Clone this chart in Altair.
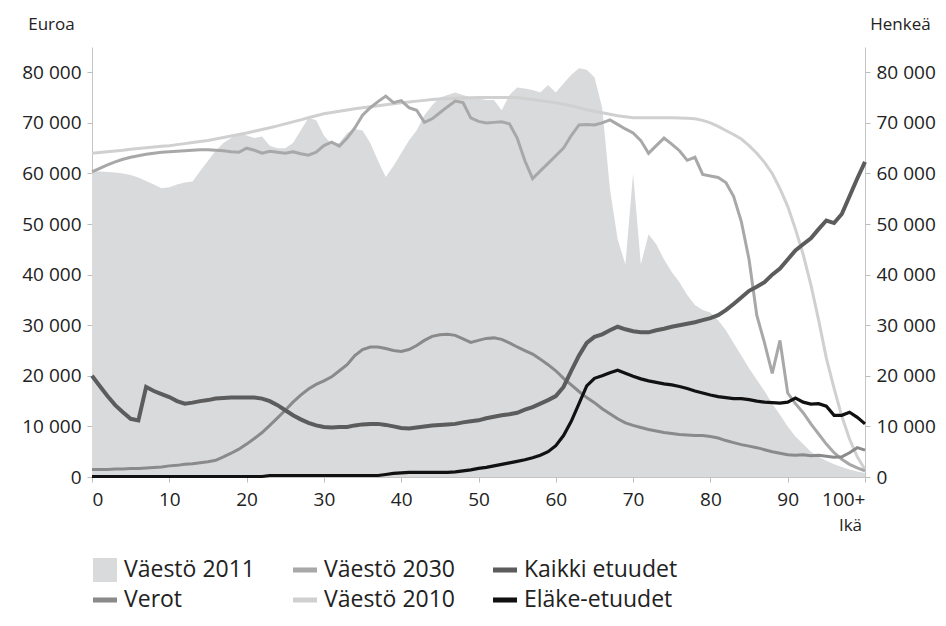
import altair as alt
import pandas as pd

ages = list(range(101))

series_names = ["Väestö 2011", "Väestö 2030", "Kaikki etuudet",
                "Verot", "Väestö 2010", "Eläke-etuudet"]
series_colors = ["#d9dadc", "#a8a8a8", "#5c5c5c", "#8a8a8a", "#d0d0d0", "#111111"]
legend_shapes = ["square", "M-1,-0.21H1V0.21H-1Z", "M-1,-0.21H1V0.21H-1Z",
                 "M-1,-0.21H1V0.21H-1Z", "M-1,-0.21H1V0.21H-1Z", "M-1,-0.21H1V0.21H-1Z"]

vaesto_2011 = [
    60500, 60400, 60300, 60200, 60000, 59700, 59200, 58500, 57800, 57100,
    57300, 57800, 58200, 58400, 60500, 62500, 64500, 66000, 67000, 68000,
    67500, 67000, 67300, 65500, 65000, 65000, 66000, 68500, 71000, 70500,
    67500, 65800, 66000, 68000, 68800, 68500, 66000, 62500, 59300, 61500,
    64000, 66500, 68500, 71500, 73500, 75000, 75500, 76000, 75500, 75000,
    74800, 74500, 74500, 72500, 75500, 77000, 76800, 76500, 76000, 77500,
    76000, 77800, 79500, 80800, 80500, 79000, 73000, 57000, 47000, 42000,
    60000, 42000, 48000, 46000, 43000, 40500, 38500, 36000, 34000, 33000,
    32500, 31000, 29000, 26500, 24000, 21500, 19200, 17000, 14500, 12300,
    10000, 8000, 6500, 5000, 4000, 3200, 2500, 2000, 1500, 1100,
    800]

vaesto_2030 = [
    60300, 61000, 61700, 62300, 62800, 63200, 63500, 63800, 64000, 64200,
    64300, 64400, 64500, 64600, 64700, 64700, 64600, 64500, 64300, 64200,
    65000, 64600, 64000, 64400, 64200, 64000, 64300, 63900, 63600, 64200,
    65500, 66200, 65400, 67000, 69000, 71500, 73000, 74200, 75300, 74000,
    74400, 73000, 72500, 70100, 70800, 72000, 73200, 74300, 74000, 71000,
    70300, 70000, 70100, 70200, 69800, 67000, 62500, 59000, 60500, 62000,
    63500, 65000, 67500, 69600, 69700, 69600, 70000, 70600, 69700, 68800,
    68000, 66500, 64000, 65500, 67000, 65800, 64500, 62600, 63200, 59800,
    59500, 59200, 58200, 55500, 50500, 43000, 32000, 26500, 20500, 27000,
    16600, 14500, 12700, 10500, 8500, 6500, 4800, 3500, 2500, 1800,
    1200]

vaesto_2010 = [
    64000, 64150, 64300, 64450, 64600, 64800, 64950, 65100, 65250, 65400,
    65500, 65700, 65900, 66100, 66300, 66500, 66800, 67100, 67400, 67700,
    68000, 68350, 68700, 69050, 69400, 69800, 70200, 70600, 71000, 71400,
    71800, 72050, 72300, 72550, 72800, 73000, 73200, 73400, 73600, 73800,
    74000, 74150, 74300, 74450, 74600, 74700, 74800, 74850, 74900, 74950,
    75000, 75000, 75000, 75000, 75000, 75000, 74800, 74600, 74400, 74200,
    74000, 73700, 73400, 73000, 72600, 72300, 72000, 71700, 71400, 71200,
    71000, 71000, 71000, 71000, 71000, 71000, 70950, 70900, 70800, 70500,
    70000, 69300, 68500, 67700, 66800, 65500, 64000, 62200, 60000, 57000,
    53500, 49000, 44000, 38000, 31000, 23500, 17500, 12000, 7500, 4000,
    1500]

verot = [
    1500, 1500, 1500, 1600, 1600, 1700, 1700, 1800, 1900, 2000,
    2200, 2300, 2500, 2600, 2800, 3000, 3300, 4000, 4700, 5500,
    6500, 7600, 8800, 10200, 11700, 13200, 14800, 16200, 17400, 18300,
    19000, 19800, 21000, 22200, 24000, 25200, 25700, 25700, 25400, 25000,
    24800, 25200, 26000, 27000, 27800, 28100, 28200, 28000, 27300, 26600,
    27000, 27400, 27500, 27200, 26500, 25700, 25000, 24300, 23300, 22200,
    21000, 19500, 18200, 16900, 15700, 14700, 13500, 12500, 11500, 10700,
    10200, 9800, 9400, 9100, 8800, 8600, 8400, 8300, 8200, 8200,
    8000, 7700, 7200, 6800, 6400, 6100, 5800, 5400, 5000, 4700,
    4400, 4300, 4400, 4200, 4300, 4100, 3900, 4000, 4800, 5800,
    5300]

kaikki_etuudet = [
    20000, 18000, 16000, 14200, 12800, 11500, 11200, 17800, 17000, 16400,
    15800, 15000, 14500, 14700, 15000, 15200, 15500, 15600, 15700, 15700,
    15700, 15700, 15500, 15000, 14200, 13200, 12200, 11400, 10700, 10200,
    9900, 9800, 9900, 9900, 10200, 10400, 10500, 10500, 10300, 10000,
    9700, 9600, 9800, 10000, 10200, 10300, 10400, 10500, 10800, 11000,
    11200, 11600, 11900, 12200, 12400, 12700, 13300, 13800, 14500, 15200,
    16000, 17800, 21000, 24000, 26500, 27700, 28200, 29000, 29700, 29200,
    28800, 28600, 28600, 29000, 29300, 29700, 30000, 30300, 30600, 31000,
    31400, 32000, 33000, 34200, 35500, 36800, 37600, 38500, 40000, 41200,
    43000, 44800, 46000, 47200, 49000, 50700, 50200, 52000, 55500, 59000,
    62300]

elake_etuudet = [
    100, 100, 100, 100, 100, 100, 100, 100, 100, 100,
    100, 100, 100, 100, 100, 100, 100, 100, 100, 100,
    100, 100, 100, 300, 300, 300, 300, 300, 300, 300,
    300, 300, 300, 300, 300, 300, 300, 300, 500, 700,
    800, 900, 900, 900, 900, 900, 900, 1000, 1200, 1400,
    1700, 1900, 2200, 2500, 2800, 3100, 3400, 3800, 4300, 5000,
    6200, 8200, 11000, 14500, 18000, 19500, 20000, 20600, 21100, 20500,
    19900, 19400, 19000, 18700, 18400, 18200, 17900, 17500, 17000, 16600,
    16200, 15900, 15700, 15500, 15500, 15300, 15000, 14800, 14700, 14600,
    14800, 15600, 14800, 14400, 14500, 14000, 12200, 12200, 12800, 11800,
    10500]


def frame(name, values):
    return pd.DataFrame({"age": ages, "value": values, "series": name})


FONT = "Open Sans"
Y_DOMAIN = [0, 85000]
Y_TICKS = list(range(0, 80001, 10000))
label_expr = "replace(format(datum.value, ','), ',', ' ')"

x_enc = alt.X(
    "age:Q",
    scale=alt.Scale(domain=[0, 100], nice=False, zero=False),
    axis=alt.Axis(
        title="Ikä", values=list(range(0, 101, 10)),
        labelExpr="datum.value == 100 ? '100+' : datum.label",
        grid=False, tickSize=5, tickColor="#bdbdbd", domainColor="#c4c4c4",
        labelFontSize=19, labelFont=FONT, labelColor="#222", labelPadding=8,
        titleFont=FONT, titleFontSize=17, titleFontWeight="normal", titleColor="#222",
        titleX=758, titleY=48, titleAngle=0, titleAlign="center", titleBaseline="middle",
    ),
)

right_axis = alt.Axis(
    orient="right", title="Henkeä", values=Y_TICKS, labelExpr=label_expr,
    grid=False, tickSize=5, tickColor="#bdbdbd", domainColor="#c4c4c4",
    labelFontSize=19, labelFont=FONT, labelColor="#222", labelPadding=6,
    titleFont=FONT, titleFontSize=17, titleFontWeight="normal", titleColor="#222",
    titleX=35, titleY=-23, titleAngle=0, titleAlign="center", titleBaseline="middle",
)

left_axis = alt.Axis(
    orient="left", title="Euroa", values=Y_TICKS, labelExpr=label_expr,
    grid=False, tickSize=5, tickColor="#bdbdbd", domainColor="#c4c4c4",
    labelFontSize=19, labelFont=FONT, labelColor="#222", labelPadding=6,
    titleFont=FONT, titleFontSize=17, titleFontWeight="normal", titleColor="#222",
    titleX=-41, titleY=-23, titleAngle=0, titleAlign="center", titleBaseline="middle",
)

legend = alt.Legend(
    title=None, orient="none", legendX=1, legendY=511,
    direction="horizontal", columns=3, columnPadding=38, rowPadding=6,
    symbolSize=576, symbolStrokeWidth=0, symbolOpacity=1,
    labelFontSize=23, labelFont=FONT, labelColor="#222", labelOffset=7,
    labelLimit=300,
)

color_scale = alt.Scale(domain=series_names, range=series_colors)
color_enc = alt.Color("series:N", scale=color_scale, legend=legend)

y_right = alt.Y("value:Q", scale=alt.Scale(domain=Y_DOMAIN, nice=False), axis=right_axis)
y_left = alt.Y("value:Q", scale=alt.Scale(domain=Y_DOMAIN, nice=False), axis=left_axis)

area = alt.Chart(frame("Väestö 2011", vaesto_2011)).mark_area(opacity=1).encode(
    x=x_enc, y=y_right, color=color_enc)
pop2010 = alt.Chart(frame("Väestö 2010", vaesto_2010)).mark_line(strokeWidth=3).encode(
    x=x_enc, y=y_right, color=color_enc)
pop2030 = alt.Chart(frame("Väestö 2030", vaesto_2030)).mark_line(strokeWidth=3).encode(
    x=x_enc, y=y_right, color=color_enc)
population = alt.layer(area, pop2010, pop2030)

verot_line = alt.Chart(frame("Verot", verot)).mark_line(strokeWidth=3).encode(
    x=x_enc, y=y_left, color=color_enc)
kaikki_line = alt.Chart(frame("Kaikki etuudet", kaikki_etuudet)).mark_line(strokeWidth=4).encode(
    x=x_enc, y=y_left, color=color_enc)
elake_line = alt.Chart(frame("Eläke-etuudet", elake_etuudet)).mark_line(strokeWidth=3.2).encode(
    x=x_enc, y=y_left, color=color_enc)

# invisible helper layer that carries the swatch shapes of the combined legend
first_points = pd.DataFrame({
    "series": series_names,
    "age": [0] * len(series_names),
    "value": [vaesto_2011[0], vaesto_2030[0], kaikki_etuudet[0],
              verot[0], vaesto_2010[0], elake_etuudet[0]],
})
legend_layer = alt.Chart(first_points).mark_point(filled=True, opacity=0).encode(
    x=x_enc, y=y_left,
    color=color_enc,
    shape=alt.Shape("series:N", scale=alt.Scale(domain=series_names, range=legend_shapes),
                    legend=legend),
)
money = alt.layer(legend_layer, verot_line, kaikki_line, elake_line)

chart = (
    alt.layer(population, money)
    .resolve_scale(y="independent")
    .properties(
        width=773, height=430,
        padding={"left": 84, "top": 39, "right": 72, "bottom": 140},
        autosize=alt.AutoSizeParams(type="none"),
    )
    .configure_view(strokeWidth=0)
)

chart.save("out.html", embed_options={"renderer": "svg", "actions": False})
